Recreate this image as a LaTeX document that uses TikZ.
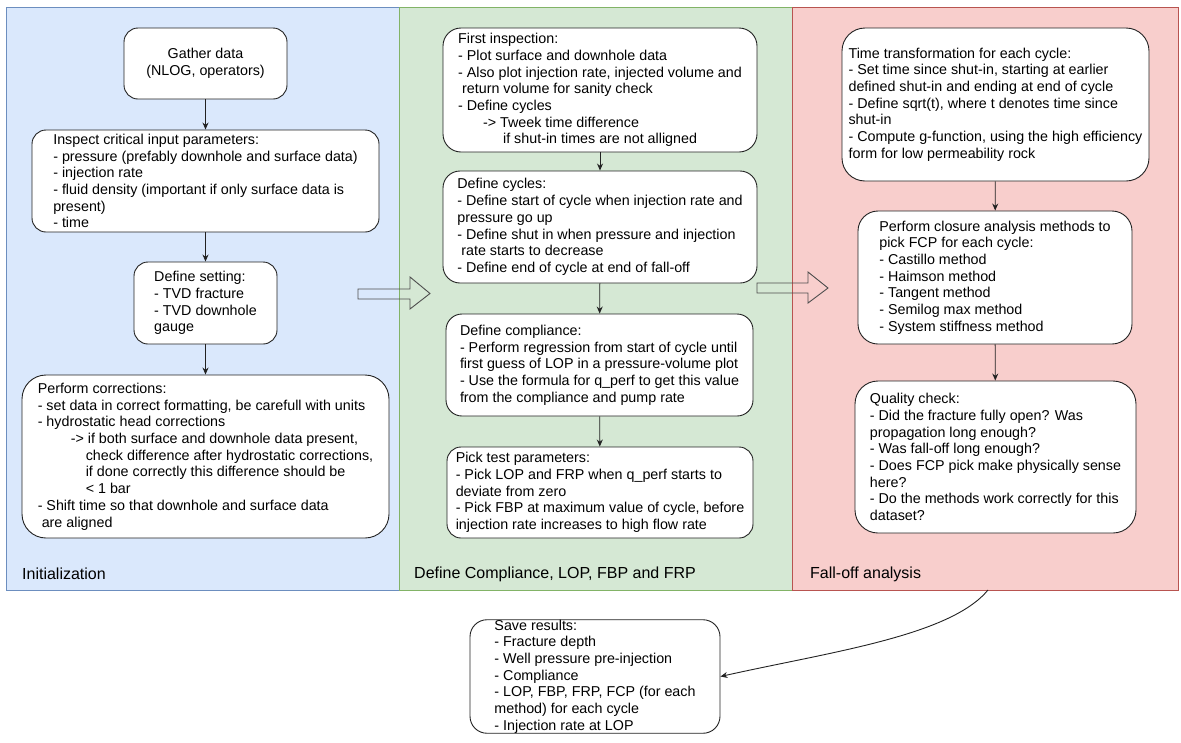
\documentclass[tikz,border=0pt]{standalone}
\usepackage{fontspec}
\setmainfont{Liberation Sans}
\usepackage{tikz}
\usetikzlibrary{positioning,arrows.meta,calc}
\definecolor{initfill}{HTML}{DAE8FC}
\definecolor{initline}{HTML}{6C8EBF}
\definecolor{compfill}{HTML}{D5E8D4}
\definecolor{compline}{HTML}{82B366}
\definecolor{fallfill}{HTML}{F8CECC}
\definecolor{fallline}{HTML}{B85450}
\definecolor{ink}{HTML}{222222}

\tikzset{
  box/.style={draw=ink, fill=white, line width=0.9pt, rounded corners=14pt,
    align=left, inner sep=0pt, font=\fontsize{14.3}{16.7}\selectfont},
  flow/.style={-{Stealth[length=7pt,width=6pt]}, draw=ink, line width=0.9pt},
  phase/.style={anchor=west, inner sep=0pt, font=\fontsize{16}{19}\selectfont},
  bigarrow/.style={draw=ink!80, line width=0.9pt},
}

\begin{document}
\begin{tikzpicture}[x=1pt, y=-1pt]
        \useasboundingbox (0,0) rectangle (1181,742);

        % Phases
        \draw[initline, fill=initfill] (6,7) rectangle (399,590);
        \draw[compline, fill=compfill] (399,7) rectangle (792,590);
        \draw[fallline, fill=fallfill] (792,7) rectangle (1178,590);
        \node[phase] (initlabel) at (22,574) {Initialization};
        \node[phase] (complabel) at (414,574) {Define Compliance, LOP, FBP and FRP};
        \node[phase] (falllabel) at (810,574) {Fall-off analysis};

        % Initialization
        \node[box, align=center, minimum width=163pt, minimum height=71pt]
          (gather) at (205.5,63.5) {Gather data\\(NLOG, operators)};
        \node[box, minimum width=347pt, minimum height=102pt] (inspect) at (205.5,181)
          {Inspect critical input parameters:\\
           - pressure (prefably downhole and surface data)\\
           - injection rate\\
           - fluid density (important if only surface data is\\
           present)\\
           - time};
        \node[box, minimum width=143pt, minimum height=82pt] (setting) at (205.5,303)
          {Define setting:\\- TVD fracture\\- TVD downhole\\gauge};
        \node[box, rounded corners=24pt, minimum width=367pt, minimum height=163pt]
          (corrections) at (205.5,456.5)
          {Perform corrections:\\
           - set data in correct formatting, be carefull with units\\
           - hydrostatic head corrections\\
           \hspace*{33pt}-> if both surface and downhole data present,\\
           \hspace*{48pt}check difference after hydrostatic corrections,\\
           \hspace*{48pt}if done correctly this difference should be\\
           \hspace*{48pt}< 1 bar\\
           - Shift time so that downhole and surface data\\
           \hspace*{4pt}are aligned};

        % Compliance, LOP, FBP, FRP
        \node[box, rounded corners=18pt, minimum width=314pt, minimum height=124pt]
          (firstlook) at (600,90)
          {First inspection:\\
           - Plot surface and downhole data\\
           - Also plot injection rate, injected volume and\\
           \hspace*{4pt}return volume for sanity check\\
           - Define cycles\\
           \hspace*{25pt}-> Tweek time difference\\
           \hspace*{45pt}if shut-in times are not alligned};
        \node[box, rounded corners=17pt, minimum width=314pt, minimum height=112pt]
          (cycles) at (600,227)
          {Define cycles:\\
           - Define start of cycle when injection rate and\\
           pressure go up\\
           - Define shut in when pressure and injection\\
           \hspace*{4pt}rate starts to decrease\\
           - Define end of cycle at end of fall-off};
        \node[box, rounded corners=16pt, minimum width=307pt, minimum height=102pt]
          (compliance) at (599.5,365)
          {Define compliance:\\
           - Perform regression from start of cycle until\\
           first guess of LOP in a pressure-volume plot\\
           - Use the formula for q\_perf to get this value\\
           from the compliance and pump rate};
        \node[box, minimum width=306pt, minimum height=91pt] (pick) at (600,492.5)
          {Pick test parameters:\\
           - Pick LOP and FRP when q\_perf starts to\\
           deviate from zero\\
           - Pick FBP at maximum value of cycle, before\\
           injection rate increases to high flow rate};

        % Fall-off analysis
        \node[box, rounded corners=23pt, minimum width=307pt, minimum height=153pt]
          (timetrans) at (995.5,104.5)
          {Time transformation for each cycle:\\
           - Set time since shut-in, starting at earlier\\
           defined shut-in and ending at end of cycle\\
           - Define sqrt(t), where t denotes time since\\
           shut-in\\
           - Compute g-function, using the high efficiency\\
           form for low permeability rock};
        \node[box, rounded corners=20pt, minimum width=274pt, minimum height=133pt]
          (closure) at (995,277.5)
          {Perform closure analysis methods to\\
           pick FCP for each cycle:\\
           - Castillo method\\
           - Haimson method\\
           - Tangent method\\
           - Semilog max method\\
           - System stiffness method};
        \node[box, rounded corners=23pt, minimum width=281pt, minimum height=152pt]
          (quality) at (995.5,457)
          {Quality check:\\
           - Did the fracture fully open? Was\\
           propagation long enough?\\
           - Was fall-off long enough?\\
           - Does FCP pick make physically sense\\
           here?\\
           - Do the methods work correctly for this\\
           dataset?};

        % Results
        \node[box, rounded corners=17pt, minimum width=250pt, minimum height=113pt]
          (save) at (595,676.5)
          {Save results:\\
           - Fracture depth\\
           - Well pressure pre-injection\\
           - Compliance\\
           - LOP, FBP, FRP, FCP (for each\\
           method) for each cycle\\
           - Injection rate at LOP};

        % Flow
        \draw[flow] (gather) -- (inspect);
        \draw[flow] (inspect) -- (setting);
        \draw[flow] (setting) -- (corrections);
        \draw[flow] (firstlook) -- (cycles);
        \draw[flow] (cycles) -- (compliance);
        \draw[flow] (compliance) -- (pick);
        \draw[flow] (timetrans) -- (closure);
        \draw[flow] (closure) -- (quality);
        \coordinate (fallexit) at (988,590);
        \draw[flow] (fallexit) .. controls (950,636) and (830,652) .. (save.east);

        % Phase hand-over arrows
        \draw[bigarrow] (358,289) -- (410,289) -- (410,277) -- (430,293.5)
          -- (410,309) -- (410,299) -- (358,299) -- cycle;
        \draw[bigarrow] (757,283) -- (808,283) -- (808,272) -- (828,288)
          -- (808,303) -- (808,293) -- (757,293) -- cycle;
      \end{tikzpicture}
\end{document}
